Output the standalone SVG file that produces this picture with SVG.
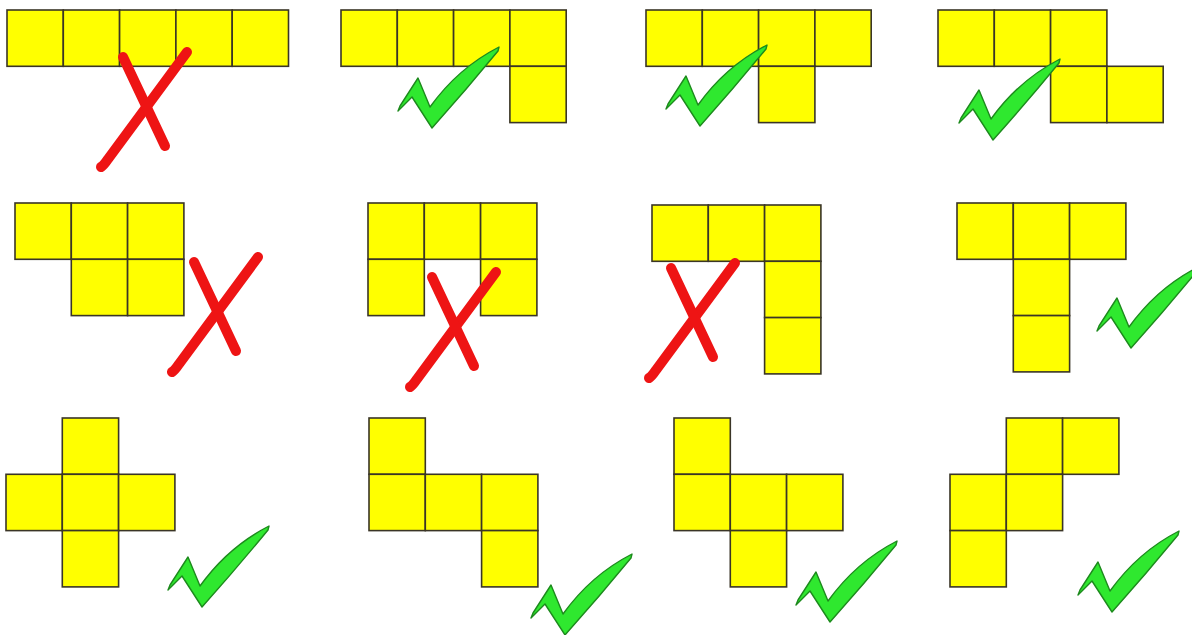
<svg xmlns="http://www.w3.org/2000/svg" xmlns:xlink="http://www.w3.org/1999/xlink" width="1192" height="635" viewBox="0 0 1192 635">
<style>
.sq{fill:#ffff00;stroke:#3a3526;stroke-width:1.6}
.chk{fill:#2fe82f;stroke:#1d8a1d;stroke-width:1.4;stroke-linejoin:round}
.x{fill:none;stroke:#ee1414;stroke-width:10;stroke-linecap:round}
</style>
<defs>
<rect id="sq" class="sq" width="56.3" height="56.3"/>
<path id="check" class="chk" d="M-34,-17 L-32,-22 L-14,-50 L-2,-21 Q26,-60 67,-81 L66,-77 Q34,-38 0,0 L-20,-31 Z"/>
<g id="cross">
<path class="x" d="M0,0 L-79,107 Q-83,113 -86,115"/>
<path class="x" d="M-64,5 L-22,94"/>
</g>
</defs>
<rect width="1192" height="635" fill="#ffffff"/>

<g id="net1" transform="translate(7,10)">
<use href="#sq" x="0" y="0"/><use href="#sq" x="56.3" y="0"/><use href="#sq" x="112.6" y="0"/><use href="#sq" x="168.9" y="0"/><use href="#sq" x="225.2" y="0"/>
</g>
<g id="net2" transform="translate(341,10)">
<use href="#sq" x="0" y="0"/><use href="#sq" x="56.3" y="0"/><use href="#sq" x="112.6" y="0"/><use href="#sq" x="168.9" y="0"/><use href="#sq" x="168.9" y="56.3"/>
</g>
<g id="net3" transform="translate(646,10)">
<use href="#sq" x="0" y="0"/><use href="#sq" x="56.3" y="0"/><use href="#sq" x="112.6" y="0"/><use href="#sq" x="168.9" y="0"/><use href="#sq" x="112.6" y="56.3"/>
</g>
<g id="net4" transform="translate(938,10)">
<use href="#sq" x="0" y="0"/><use href="#sq" x="56.3" y="0"/><use href="#sq" x="112.6" y="0"/><use href="#sq" x="112.6" y="56.3"/><use href="#sq" x="168.9" y="56.3"/>
</g>
<g id="net5" transform="translate(15,203)">
<use href="#sq" x="0" y="0"/><use href="#sq" x="56.3" y="0"/><use href="#sq" x="112.6" y="0"/><use href="#sq" x="56.3" y="56.3"/><use href="#sq" x="112.6" y="56.3"/>
</g>
<g id="net6" transform="translate(368,203)">
<use href="#sq" x="0" y="0"/><use href="#sq" x="56.3" y="0"/><use href="#sq" x="112.6" y="0"/><use href="#sq" x="0" y="56.3"/><use href="#sq" x="112.6" y="56.3"/>
</g>
<g id="net7" transform="translate(652,205)">
<use href="#sq" x="0" y="0"/><use href="#sq" x="56.3" y="0"/><use href="#sq" x="112.6" y="0"/><use href="#sq" x="112.6" y="56.3"/><use href="#sq" x="112.6" y="112.6"/>
</g>
<g id="net8" transform="translate(957,203)">
<use href="#sq" x="0" y="0"/><use href="#sq" x="56.3" y="0"/><use href="#sq" x="112.6" y="0"/><use href="#sq" x="56.3" y="56.3"/><use href="#sq" x="56.3" y="112.6"/>
</g>
<g id="net9" transform="translate(6,418)">
<use href="#sq" x="56.3" y="0"/><use href="#sq" x="0" y="56.3"/><use href="#sq" x="56.3" y="56.3"/><use href="#sq" x="112.6" y="56.3"/><use href="#sq" x="56.3" y="112.6"/>
</g>
<g id="net10" transform="translate(369,418)">
<use href="#sq" x="0" y="0"/><use href="#sq" x="0" y="56.3"/><use href="#sq" x="56.3" y="56.3"/><use href="#sq" x="112.6" y="56.3"/><use href="#sq" x="112.6" y="112.6"/>
</g>
<g id="net11" transform="translate(674,418)">
<use href="#sq" x="0" y="0"/><use href="#sq" x="0" y="56.3"/><use href="#sq" x="56.3" y="56.3"/><use href="#sq" x="112.6" y="56.3"/><use href="#sq" x="56.3" y="112.6"/>
</g>
<g id="net12" transform="translate(950,418)">
<use href="#sq" x="56.3" y="0"/><use href="#sq" x="112.6" y="0"/><use href="#sq" x="0" y="56.3"/><use href="#sq" x="56.3" y="56.3"/><use href="#sq" x="0" y="112.6"/>
</g>

<g id="marks">
<use href="#cross" transform="translate(187,52)"/>
<use href="#check" transform="translate(432,128)"/>
<use href="#check" transform="translate(700,126)"/>
<use href="#check" transform="translate(993,140)"/>
<use href="#cross" transform="translate(258,257)"/>
<use href="#cross" transform="translate(496,272)"/>
<use href="#cross" transform="translate(735,263)"/>
<use href="#check" transform="translate(1131,348)"/>
<use href="#check" transform="translate(202,607)"/>
<use href="#check" transform="translate(565,635)"/>
<use href="#check" transform="translate(830,622)"/>
<use href="#check" transform="translate(1112,612)"/>
</g>
</svg>
